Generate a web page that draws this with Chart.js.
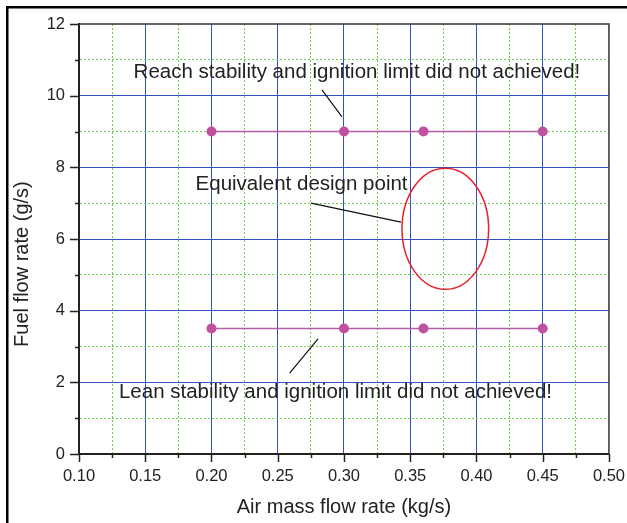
<!DOCTYPE html>
<html>
<head>
<meta charset="utf-8">
<script src="https://cdn.jsdelivr.net/npm/chart.js@4"></script>
<style>
  html, body { margin: 0; padding: 0; background: #fff; }
  #wrap { position: relative; width: 627px; height: 523px; }
</style>
</head>
<body>
<div id="wrap"><canvas id="flowChart"></canvas></div>
<script>
const airFlow = [0.20, 0.30, 0.36, 0.45];
const richFuel = [9, 9, 9, 9];
const leanFuel = [3.5, 3.5, 3.5, 3.5];

const xMin = 0.10, xMax = 0.50, xStep = 0.025;
const yMin = 0, yMax = 12, yStep = 1;

const yTitle = 'Fuel flow rate (g/s)';
const yTitleCenter = 5.3; // in fuel-flow units, the title sits a bit below mid-axis

const noteTexts = [
  'Reach stability and ignition limit did not achieved!',
  'Equivalent design point',
  'Lean stability and ignition limit did not achieved!',
];
const noteX = [0.3098, 0.268, 0.2936];
const noteY = [10.64, 7.52, 1.71];

// leader lines: start (near text) -> end (near mark)
const leaderX1 = [0.2834, 0.2751, 0.2590];
const leaderY1 = [10.16, 7.00, 2.26];
const leaderX2 = [0.2985, 0.3430, 0.2804];
const leaderY2 = [9.41, 6.47, 3.21];

const designCenter = [0.3765, 6.285];
const designRadius = [0.0327, 1.69];

const FONT = '"Liberation Sans", Arial, sans-serif';
const majorBlue = '#3552c4';
const minorGreen = '#6ccc4c';

function isMajorX(v) { return Math.round(v * 1000) % 50 === 0; }
function isMajorY(v) { return Math.round(v) % 2 === 0; }
function isEdge(v, lo, hi) { return Math.abs(v - lo) < 1e-6 || Math.abs(v - hi) < 1e-6; }

const decorPlugin = {
  id: 'decor',
  beforeDraw(chart) {
    const ctx = chart.ctx;
    ctx.save();
    ctx.fillStyle = '#000';
    ctx.fillRect(6, 6, 2.5, chart.height);
    ctx.fillRect(6, 6, chart.width, 2.5);
    ctx.restore();
  },
  afterDraw(chart) {
    const { ctx, chartArea, scales } = chart;
    const x = scales.x, y = scales.y;
    ctx.save();
    // top + right frame
    ctx.strokeStyle = '#333';
    ctx.lineWidth = 1.5;
    ctx.beginPath();
    ctx.moveTo(chartArea.left, chartArea.top);
    ctx.lineTo(chartArea.right, chartArea.top);
    ctx.lineTo(chartArea.right, chartArea.bottom);
    ctx.stroke();

    // ticks, outward
    ctx.strokeStyle = '#222';
    ctx.lineWidth = 1.5;
    ctx.beginPath();
    x.ticks.forEach(t => {
      const px = Math.round(x.getPixelForValue(t.value)) + 0.5;
      const len = isMajorX(t.value) ? 8 : 4;
      ctx.moveTo(px, chartArea.bottom);
      ctx.lineTo(px, chartArea.bottom + len);
    });
    y.ticks.forEach(t => {
      const py = Math.round(y.getPixelForValue(t.value)) + 0.5;
      const len = isMajorY(t.value) ? 9 : 4;
      ctx.moveTo(chartArea.left, py);
      ctx.lineTo(chartArea.left - len, py);
    });
    ctx.stroke();

    // design point ellipse
    ctx.strokeStyle = '#e8212b';
    ctx.lineWidth = 1.5;
    const cx = x.getPixelForValue(designCenter[0]);
    const cy = y.getPixelForValue(designCenter[1]);
    const rx = Math.abs(x.getPixelForValue(designCenter[0] + designRadius[0]) - cx);
    const ry = Math.abs(y.getPixelForValue(designCenter[1] + designRadius[1]) - cy);
    ctx.beginPath();
    ctx.ellipse(cx, cy, rx, ry, 0, 0, Math.PI * 2);
    ctx.stroke();

    // leader lines
    ctx.strokeStyle = '#111';
    ctx.lineWidth = 1.2;
    ctx.beginPath();
    leaderX1.forEach((_, i) => {
      ctx.moveTo(x.getPixelForValue(leaderX1[i]), y.getPixelForValue(leaderY1[i]));
      ctx.lineTo(x.getPixelForValue(leaderX2[i]), y.getPixelForValue(leaderY2[i]));
    });
    ctx.stroke();

    // notes
    ctx.fillStyle = '#222';
    ctx.font = '20.5px ' + FONT;
    ctx.textAlign = 'center';
    ctx.textBaseline = 'middle';
    noteTexts.forEach((txt, i) => {
      ctx.fillText(txt, x.getPixelForValue(noteX[i]), y.getPixelForValue(noteY[i]));
    });

    // y axis title
    ctx.font = '20px ' + FONT;
    ctx.translate(22, y.getPixelForValue(yTitleCenter));
    ctx.rotate(-Math.PI / 2);
    ctx.fillText(yTitle, 0, 0);
    ctx.restore();
  },
};

const pointStyle = {
  borderColor: '#b35ca8',
  borderWidth: 1.5,
  pointRadius: 5,
  pointBackgroundColor: '#c050a0',
  pointBorderWidth: 0,
  showLine: true,
};

new Chart(document.getElementById('flowChart'), {
  type: 'scatter',
  data: {
    datasets: [
      { label: 'Rich', data: airFlow.map((v, i) => ({ x: v, y: richFuel[i] })), ...pointStyle },
      { label: 'Lean', data: airFlow.map((v, i) => ({ x: v, y: leanFuel[i] })), ...pointStyle },
    ],
  },
  options: {
    responsive: true,
    maintainAspectRatio: false,
    animation: false,
    layout: { padding: { top: 24, right: 18, left: 0, bottom: 0 } },
    plugins: { legend: { display: false }, tooltip: { enabled: false } },
    scales: {
      x: {
        type: 'linear',
        min: xMin,
        max: xMax,
        afterFit(scale) { scale.height = 69; },
        ticks: {
          stepSize: xStep,
          autoSkip: false,
          maxRotation: 0,
          padding: 2,
          color: '#222',
          font: { family: FONT, size: 16.5 },
          callback(v) { return isMajorX(v) ? v.toFixed(2) : ''; },
        },
        grid: {
          tickLength: 11,
          tickColor: 'rgba(0,0,0,0)',
          color(c) {
            if (!c.tick || isEdge(c.tick.value, xMin, xMax)) return 'rgba(0,0,0,0)';
            return isMajorX(c.tick.value) ? majorBlue : minorGreen;
          },
        },
        border: {
          color: '#222',
          width: 2,
          dash(c) { return c.tick && !isMajorX(c.tick.value) ? [2, 2] : []; },
        },
        title: {
          display: true,
          text: 'Air mass flow rate (kg/s)',
          color: '#222',
          font: { family: FONT, size: 20 },
          padding: { top: 0, bottom: 4 },
        },
      },
      y: {
        type: 'linear',
        min: yMin,
        max: yMax,
        afterFit(scale) { scale.width = 79; },
        ticks: {
          stepSize: yStep,
          autoSkip: false,
          padding: 5,
          color: '#222',
          font: { family: FONT, size: 16.5 },
          callback(v) { return isMajorY(v) ? String(v) : ''; },
        },
        grid: {
          tickLength: 9,
          tickColor: 'rgba(0,0,0,0)',
          color(c) {
            if (!c.tick || isEdge(c.tick.value, yMin, yMax)) return 'rgba(0,0,0,0)';
            return isMajorY(c.tick.value) ? majorBlue : minorGreen;
          },
        },
        border: {
          color: '#222',
          width: 2,
          dash(c) { return c.tick && !isMajorY(c.tick.value) ? [2, 2] : []; },
        },
      },
    },
  },
  plugins: [decorPlugin],
});
</script>
</body>
</html>
